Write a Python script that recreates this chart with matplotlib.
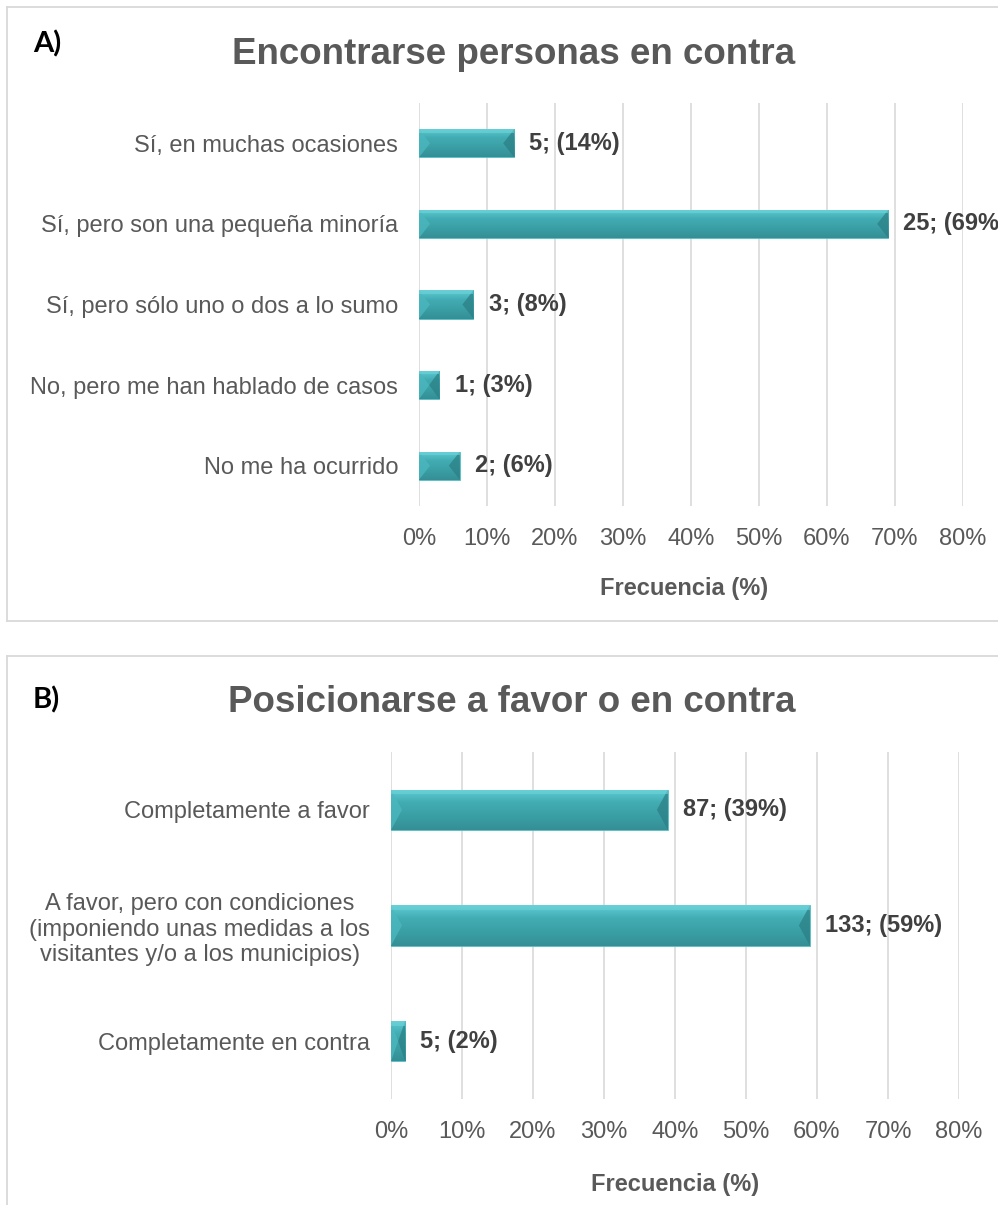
import numpy as np
import matplotlib
matplotlib.use('Agg')
import matplotlib.pyplot as plt
from matplotlib.patches import Polygon
from matplotlib.lines import Line2D

# data
cats_a = ['Sí, en muchas ocasiones', 'Sí, pero son una pequeña minoría',
          'Sí, pero sólo uno o dos a lo sumo', 'No, pero me han hablado de casos',
          'No me ha ocurrido']
counts_a = [5, 25, 3, 1, 2]
pct_a = [14, 69, 8, 3, 6]

cats_b = ['Completamente a favor',
          'A favor, pero con condiciones\n(imponiendo unas medidas a los\nvisitantes y/o a los municipios)',
          'Completamente en contra']
counts_b = [87, 133, 5]
pct_b = [39, 59, 2]

xticks = [0, 10, 20, 30, 40, 50, 60, 70, 80]

W, H = 998, 1205
fig = plt.figure(figsize=(W/100, H/100), dpi=100)
plt.rcParams['font.family'] = ['Liberation Sans', 'DejaVu Sans']

GRAY = '#595959'
GRID = '#d9d9d9'

def rect(x0, x1, y0, y1):
    return [x0/W, 1-y1/H, (x1-x0)/W, (y1-y0)/H]

def bevel_bars(ax, bars):
    ax.figure.canvas.draw()
    ppu = ax.get_window_extent().width / (ax.get_xlim()[1] - ax.get_xlim()[0])
    grad = np.linspace(0, 1, 64).reshape(-1, 1)
    cmap = matplotlib.colors.LinearSegmentedColormap.from_list(
        'teal', ['#5fcbd3', '#41acb2', '#3a9fa5', '#348f95'])
    for b in bars:
        x, y, w, h = b.get_x(), b.get_y(), b.get_width(), b.get_height()
        im = ax.imshow(grad, extent=(x, x+w, y+h, y), cmap=cmap, aspect='auto',
                       origin='upper', zorder=2)
        im.set_clip_path(b)
        bx = min(11/ppu, w/2)
        ym = y + h/2
        ax.add_patch(Polygon([(x, y), (x+bx, ym), (x, y+h)], closed=True,
                             fc='#4bb7be', ec='none', alpha=0.8, zorder=3))
        ax.add_patch(Polygon([(x+w, y), (x+w-bx, ym), (x+w, y+h)], closed=True,
                             fc='#2b8086', ec='none', alpha=0.75, zorder=3))
        ax.add_patch(Polygon([(x, y), (x+w, y), (x+w, y+h*0.12), (x, y+h*0.12)],
                             closed=True, fc='#6ed3da', ec='none', alpha=0.6, zorder=3))

def panel(ax, cats, counts, pct, ticky, labely, xlabx):
    n = len(cats)
    ypos = np.arange(n)
    bars = ax.barh(ypos, [p/100 for p in pct], height=0.35, color='#3a9fa5',
                   edgecolor='#55c0c7', linewidth=0.6, zorder=2)
    ax.set_xlim(0, 0.8)
    ax.set_ylim(n-0.5, -0.5)
    ax.set_xticks([t/100 for t in xticks])
    ax.set_xticklabels([f'{t}%' for t in xticks])
    ax.set_yticks(ypos)
    ax.set_yticklabels(cats)
    for t in ax.get_yticklabels():
        t.set_multialignment('center')
    ax.tick_params(axis='both', length=0, labelsize=17, labelcolor=GRAY)
    ax.tick_params(axis='y', pad=15)
    ax.tick_params(axis='x', pad=16)
    ax.grid(axis='x', color=GRID, linewidth=1.2, zorder=0)
    ax.set_axisbelow(True)
    for s in ax.spines.values():
        s.set_visible(False)
    ax.bar_label(bars, labels=[f'{c}; ({p}%)' for c, p in zip(counts, pct)],
                 padding=11, fontsize=17, fontweight='bold', color='#404040',
                 clip_on=False)
    bevel_bars(ax, bars)
    ax.set_xlim(0, 0.8)
    ax.set_ylim(n-0.5, -0.5)
    fig.text(xlabx/W, 1-labely/H, 'Frecuencia (%)', ha='center', va='center',
             fontsize=17, fontweight='bold', color=GRAY)

ax1 = fig.add_axes(rect(419, 963, 103, 506))
panel(ax1, cats_a, counts_a, pct_a, 538, 588, 684)

ax2 = fig.add_axes(rect(391, 959, 752, 1099))
panel(ax2, cats_b, counts_b, pct_b, 1130, 1185, 675)

# titles and panel letters
fig.text(514/W, 1-64/H, 'Encontrarse personas en contra', ha='center', va='baseline',
         fontsize=26.5, fontweight='bold', color=GRAY)
fig.text(512/W, 1-712/H, 'Posicionarse a favor o en contra', ha='center', va='baseline',
         fontsize=26.5, fontweight='bold', color=GRAY)
fig.text(33/W, 1-52/H, 'A)', ha='left', va='baseline', fontsize=21,
         fontweight='bold', family='Lato', color='black')
fig.text(33/W, 1-708/H, 'B)', ha='left', va='baseline', fontsize=21,
         fontweight='bold', family='Lato', color='black')

# panel borders
def fline(xs, ys):
    fig.add_artist(Line2D([x/W for x in xs], [1-y/H for y in ys], color=GRID,
                          linewidth=1.3, transform=fig.transFigure))

fline([7, 998], [7, 7])
fline([7, 7], [7, 621])
fline([7, 998], [621, 621])
fline([7, 998], [656, 656])
fline([7, 7], [656, 1205])

fig.savefig('out.png', dpi=100, facecolor='white')
